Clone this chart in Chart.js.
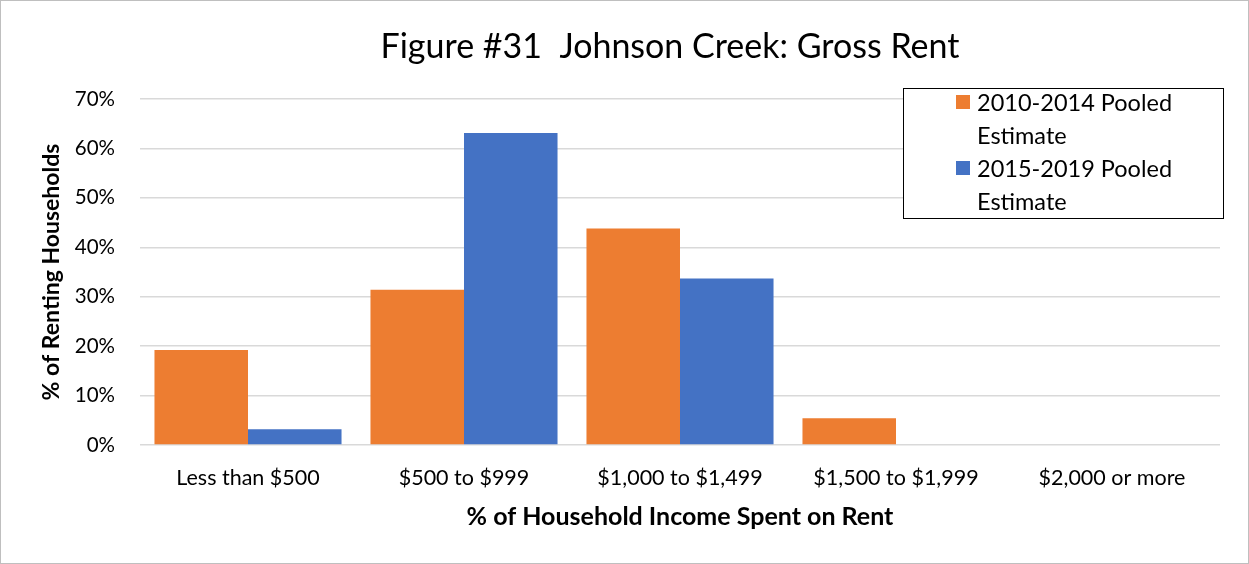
<!DOCTYPE html>
<html>
<head>
<meta charset="utf-8">
<script src="https://cdn.jsdelivr.net/npm/chart.js@4/dist/chart.umd.min.js"></script>
<style>
  body { margin: 0; background: #fff; }
  #wrap { position: relative; width: 1249px; height: 564px; font-family: Lato, "Open Sans", sans-serif; }
  #frame { position: absolute; left: 0; top: 0; width: 1247px; height: 562px; border: 1px solid #bfbfbf; pointer-events: none; }
  #legend { position: absolute; left: 903px; top: 88px; width: 321px; height: 131px; border: 1.5px solid #000; background: #fff; box-sizing: border-box; }
  .item { position: absolute; left: 52px; display: flex; align-items: flex-start; }
  .swatch { width: 14px; height: 14px; margin-top: 9px; margin-right: 7px; }
  .text { width: 215px; font-size: 23.5px; line-height: 33px; color: #000; }
</style>
</head>
<body>
<div id="wrap">
  <canvas id="chart" width="1249" height="564"></canvas>
  <div id="legend"></div>
  <div id="frame"></div>
</div>
<script>
// 数据
const categories = ['Less than $500', '$500 to $999', '$1,000 to $1,499', '$1,500 to $1,999', '$2,000 or more'];
const seriesNames = ['2010-2014 Pooled Estimate', '2015-2019 Pooled Estimate'];
const pooled2010 = [19.2, 31.4, 43.8, 5.4, 0];
const pooled2015 = [3.2, 63.1, 33.7, 0, 0];
const seriesColors = ['#ED7D31', '#4472C4'];

const FONT = 'Lato, "Open Sans", sans-serif';

// 标题插件
const titlePlugin = {
  id: 'chartTitle',
  afterDraw(chart) {
    const ctx = chart.ctx;
    ctx.save();
    ctx.font = `34px ${FONT}`;
    ctx.fillStyle = '#000';
    ctx.textAlign = 'center';
    ctx.textBaseline = 'middle';
    ctx.fillText('Figure #31  Johnson Creek: Gross Rent', 670, 47);
    ctx.restore();
  }
};

const chart = new Chart(document.getElementById('chart'), {
  type: 'bar',
  data: {
    labels: categories,
    datasets: [
      { label: seriesNames[0], data: pooled2010, backgroundColor: seriesColors[0] },
      { label: seriesNames[1], data: pooled2015, backgroundColor: seriesColors[1] }
    ]
  },
  options: {
    responsive: false,
    animation: false,
    layout: { padding: { top: 99, right: 29, left: 0, bottom: 0 } },
    datasets: { bar: { barPercentage: 1, categoryPercentage: 0.866 } },
    plugins: {
      legend: { display: false },
      tooltip: { enabled: false }
    },
    scales: {
      x: {
        afterFit(scale) { scale.height = 119; },
        grid: { display: false },
        border: { display: false },
        ticks: { color: '#000', padding: 12, font: { family: FONT, size: 21.5 } },
        title: {
          display: true,
          text: '% of Household Income Spent on Rent',
          color: '#000',
          padding: { top: 0, bottom: 32 },
          font: { family: FONT, size: 25, weight: 'bold' }
        }
      },
      y: {
        min: 0,
        max: 70,
        afterFit(scale) { scale.width = 140; },
        grid: { color: '#d9d9d9', lineWidth: 1.5, drawTicks: false },
        border: { display: false },
        ticks: {
          stepSize: 10,
          color: '#000',
          padding: 25,
          font: { family: FONT, size: 20.5 },
          callback: v => v + '%'
        },
        title: {
          display: true,
          text: '% of Renting Households',
          color: '#000',
          padding: { top: 38, bottom: 0 },
          font: { family: FONT, size: 23, weight: 'bold' }
        }
      }
    }
  },
  plugins: [titlePlugin]
});

// 图例
const legend = document.getElementById('legend');
chart.data.datasets.forEach((ds, i) => {
  const item = document.createElement('div');
  item.className = 'item';
  item.style.top = (i * 66 - 3) + 'px';
  item.innerHTML = `<span class="swatch" style="background:${ds.backgroundColor}"></span><span class="text">${ds.label}</span>`;
  legend.appendChild(item);
});
</script>
</body>
</html>
